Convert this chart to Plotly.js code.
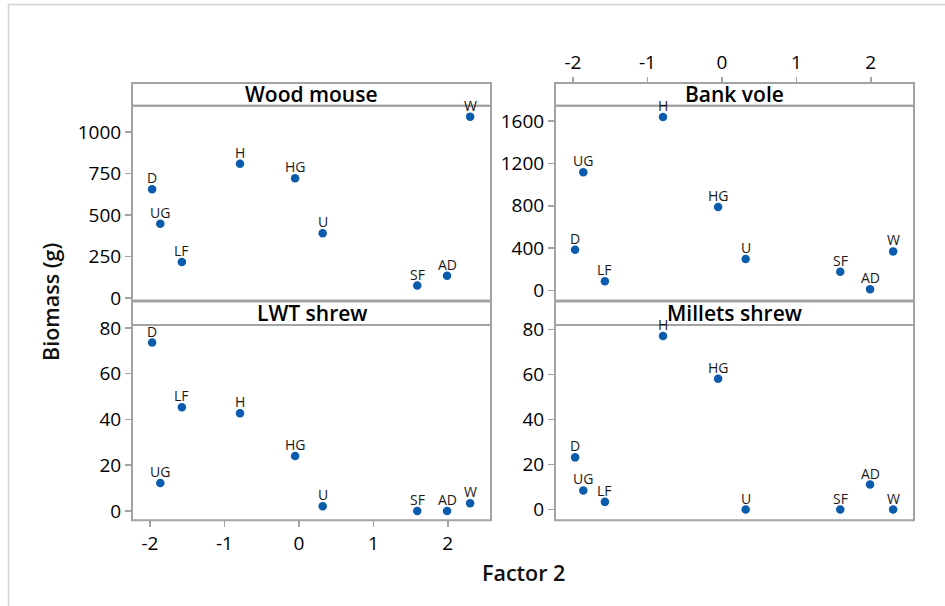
<!DOCTYPE html>
<html>
<head>
<meta charset="utf-8">
<script src="https://cdn.plot.ly/plotly-3.0.1.min.js"></script>
<style>
  html, body { margin: 0; padding: 0; background: #fff; }
  #chart { width: 945px; height: 606px; }
</style>
</head>
<body>
<div id="chart"></div>
<script>
// ---- Data ----
const sites = ["D", "UG", "LF", "H", "HG", "U", "SF", "AD", "W"];
const factor2 = [-1.97, -1.86, -1.57, -0.79, -0.05, 0.32, 1.59, 1.99, 2.30];
const woodMouse = [656, 447, 217, 809, 722, 390, 74, 133, 1094];
const bankVole = [385, 1117, 88, 1638, 789, 297, 177, 12, 369];
const lwtShrew = [73.6, 12.2, 45.3, 42.7, 24.0, 2.0, 0, 0, 3.4];
const milletsShrew = [23.2, 8.5, 3.4, 77.2, 58.2, 0, 0, 11.1, 0];
const panelTitles = ["Wood mouse", "Bank vole", "LWT shrew", "Millets shrew"];
const xTicks = [-2, -1, 0, 1, 2];
const yTicksWood = [0, 250, 500, 750, 1000];
const yTicksBank = [0, 400, 800, 1200, 1600];
const yTicksShrew = [0, 20, 40, 60, 80];

// ---- Layout helpers ----
const W = 945, H = 606;
const px = v => v / W;            // x pixel -> paper
const py = v => 1 - v / H;        // y pixel -> paper
const FONT = '"Open Sans", "Noto Sans", sans-serif';
const blue = '#0b5cad';
const frame = '#a3a3a3';

const colX = [[132, 491], [555, 914]];
const rowHdr = [[83, 105.7], [301.5, 325]];
const rowPlot = [[105.7, 300.5], [325, 520.3]];

const seriesList = [woodMouse, bankVole, lwtShrew, milletsShrew];
const axisIds = [['x', 'y'], ['x2', 'y2'], ['x3', 'y3'], ['x4', 'y4']];
const traces = seriesList.map((ys, i) => ({
  type: 'scatter',
  mode: 'markers',
  x: factor2,
  y: ys,
  marker: { color: blue, size: 8.5 },
  cliponaxis: false,
  hoverinfo: 'skip',
  xaxis: axisIds[i][0],
  yaxis: axisIds[i][1],
  showlegend: false
}));

const xRange = [-2.24, 2.58];
const tickFont = { family: FONT, size: 19, color: '#000' };
const baseX = {
  range: xRange, showgrid: false, zeroline: false, showline: false,
  tickvals: xTicks, ticktext: xTicks.map(String),
  tickfont: tickFont, tickcolor: frame, ticklen: 6, tickwidth: 1.5
};
const baseY = {
  showgrid: false, zeroline: false, showline: false,
  tickfont: tickFont, tickcolor: frame, ticklen: 6, tickwidth: 1.5, ticks: 'outside'
};

const layout = {
  width: W, height: H,
  margin: { l: 0, r: 0, t: 0, b: 0, pad: 0 },
  paper_bgcolor: '#fff', plot_bgcolor: '#fff',
  showlegend: false,
  xaxis: Object.assign({}, baseX, { domain: [px(colX[0][0]), px(colX[0][1])], anchor: 'y', ticks: '', showticklabels: false }),
  xaxis2: Object.assign({}, baseX, { domain: [px(colX[1][0]), px(colX[1][1])], anchor: 'free', position: py(rowHdr[0][0]), side: 'top', ticks: 'outside', showticklabels: true }),
  xaxis3: Object.assign({}, baseX, { domain: [px(colX[0][0]), px(colX[0][1])], anchor: 'y3', ticks: 'outside', showticklabels: true }),
  xaxis4: Object.assign({}, baseX, { domain: [px(colX[1][0]), px(colX[1][1])], anchor: 'y4', ticks: '', showticklabels: false }),
  yaxis: Object.assign({}, baseY, { domain: [py(rowPlot[0][1]), py(rowPlot[0][0])], anchor: 'x', range: [-16, 1160], tickvals: yTicksWood }),
  yaxis2: Object.assign({}, baseY, { domain: [py(rowPlot[0][1]), py(rowPlot[0][0])], anchor: 'x2', range: [-95, 1745], tickvals: yTicksBank }),
  yaxis3: Object.assign({}, baseY, { domain: [py(rowPlot[1][1]), py(rowPlot[1][0])], anchor: 'x3', range: [-4.1, 81.3], tickvals: yTicksShrew }),
  yaxis4: Object.assign({}, baseY, { domain: [py(rowPlot[1][1]), py(rowPlot[1][0])], anchor: 'x4', range: [-4.8, 82.1], tickvals: yTicksShrew }),
  shapes: [],
  annotations: []
};

// point labels (positioned on the data through each subplot's axes)
seriesList.forEach((ys, i) => {
  ys.forEach((v, j) => {
    layout.annotations.push({
      xref: axisIds[i][0], yref: axisIds[i][1],
      x: factor2[j], y: v, text: sites[j],
      xanchor: 'center', yanchor: 'middle', yshift: 11.5,
      showarrow: false,
      font: { family: FONT, size: 14, color: '#1a1a1a' }
    });
  });
});

// panel frames and header strips
for (let r = 0; r < 2; r++) {
  for (let c = 0; c < 2; c++) {
    const [x0, x1] = colX[c];
    layout.shapes.push({
      type: 'rect', xref: 'paper', yref: 'paper', layer: 'above',
      x0: px(x0), x1: px(x1), y0: py(rowHdr[r][1]), y1: py(rowHdr[r][0]),
      line: { color: frame, width: 2 }, fillcolor: 'rgba(0,0,0,0)'
    });
    layout.shapes.push({
      type: 'rect', xref: 'paper', yref: 'paper', layer: 'above',
      x0: px(x0), x1: px(x1), y0: py(rowPlot[r][1]), y1: py(rowPlot[r][0]),
      line: { color: frame, width: 2 }, fillcolor: 'rgba(0,0,0,0)'
    });
    layout.annotations.push({
      xref: 'paper', yref: 'paper',
      x: px((x0 + x1) / 2), y: py((rowHdr[r][0] + rowHdr[r][1]) / 2),
      xanchor: 'center', yanchor: 'middle', showarrow: false,
      text: panelTitles[r * 2 + c],
      font: { family: FONT, size: 21, color: '#000', weight: 600 }
    });
  }
}

// outer light frame of the graph
layout.shapes.push({ type: 'line', xref: 'paper', yref: 'paper', x0: px(8), x1: px(945), y0: py(4.5), y1: py(4.5), line: { color: '#d2d2d2', width: 1.5 } });
layout.shapes.push({ type: 'line', xref: 'paper', yref: 'paper', x0: px(8.5), x1: px(8.5), y0: py(4), y1: py(606), line: { color: '#d2d2d2', width: 1.5 } });

// axis titles
layout.annotations.push({
  xref: 'paper', yref: 'paper', x: px(51), y: py(302),
  xanchor: 'center', yanchor: 'middle', showarrow: false, textangle: -90,
  text: 'Biomass (g)', font: { family: FONT, size: 21.5, color: '#111', weight: 600 }
});
layout.annotations.push({
  xref: 'paper', yref: 'paper', x: px(523), y: py(572),
  xanchor: 'center', yanchor: 'middle', showarrow: false,
  text: 'Factor 2', font: { family: FONT, size: 21.5, color: '#111', weight: 600 }
});

Plotly.newPlot('chart', traces, layout, { displayModeBar: false, staticPlot: true });
</script>
</body>
</html>
